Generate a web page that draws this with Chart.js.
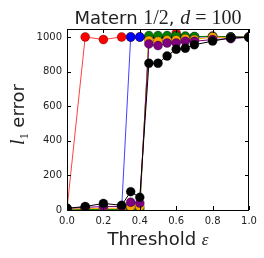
<!DOCTYPE html>
<html>
<head>
<meta charset="utf-8">
<script src="https://cdn.jsdelivr.net/npm/chart.js@4.4.0/dist/chart.umd.min.js"></script>
<style>
  html, body { margin: 0; padding: 0; background: #fff; }
  #wrap { width: 264px; height: 258px; }
</style>
</head>
<body>
<div id="wrap"><canvas id="myChart" width="264" height="258"></canvas></div>
<script>
const thresholds = [0, 0.1, 0.2, 0.3, 0.35, 0.4, 0.45, 0.5, 0.55, 0.6, 0.65, 0.7, 0.8, 0.9, 1.0];
const xTicks = [0, 0.2, 0.4, 0.6, 0.8, 1.0];
const yTicks = [0, 200, 400, 600, 800, 1000];

const redErr    = [5, 1000, 985, 1000, 1000, 1000, 1000, 1000, 1000, 1022, 1000, 1000, 1005, 1000, 1000];
const blueErr   = [3, 3, 3, 3, 1000, 1000, 1000, 1000, 1000, 1000, 1000, 1000, 1000, 1000, 1000];
const greenErr  = [2, 3, 3, 3, 5, 5, 1008, 1008, 1008, 1008, 1005, 1003, 1003, 1000, 1000];
const orangeErr = [5, 8, 10, 10, 20, 20, 980, 975, 982, 983, 990, 985, 1000, 995, 1000];
const purpleErr = [10, 15, 20, 20, 45, 40, 960, 950, 965, 965, 975, 975, 985, 990, 1000];
const blackErr  = [10, 20, 38, 27, 106, 73, 848, 848, 890, 929, 935, 955, 976, 995, 997];

const series = [
    { values: redErr, color: '#ff0000', line: 'rgba(255,0,0,0.75)' },
    { values: blueErr, color: '#0000ff', line: 'rgba(0,0,255,0.75)' },
    { values: greenErr, color: '#007f00', line: '#007f00' },
    { values: orangeErr, color: '#ffa500', line: '#ffa500' },
    { values: purpleErr, color: '#800080', line: '#800080' },
    { values: blackErr, color: '#000000', line: '#000000' },
];

const decorations = {
    id: 'decorations',
    afterDraw(chart) {
        const ctx = chart.ctx;
        const a = chart.chartArea;
        const xs = chart.scales.x, ys = chart.scales.y;
        ctx.save();
        ctx.strokeStyle = '#000';
        ctx.lineWidth = 1;
        // inward ticks
        ctx.beginPath();
        xTicks.forEach(v => {
            const px = Math.round(xs.getPixelForValue(v)) + 0.5;
            ctx.moveTo(px, a.bottom); ctx.lineTo(px, a.bottom - 4);
            ctx.moveTo(px, a.top); ctx.lineTo(px, a.top + 4);
        });
        yTicks.forEach(v => {
            const py = Math.round(ys.getPixelForValue(v)) + 0.5;
            ctx.moveTo(a.left, py); ctx.lineTo(a.left + 4, py);
            ctx.moveTo(a.right, py); ctx.lineTo(a.right - 4, py);
        });
        ctx.stroke();
        // frame
        ctx.strokeRect(Math.round(a.left) + 0.5, Math.round(a.top) + 0.5,
            Math.round(a.right - a.left) - 1, Math.round(a.bottom - a.top));

        ctx.fillStyle = '#222';
        ctx.textBaseline = 'alphabetic';
        // title: mixed text and math
        const parts = [
            ['Matern ', '18px "DejaVu Sans"'],
            ['1/2', '20px "Liberation Serif"'],
            [', ', '18px "DejaVu Sans"'],
            ['d', 'italic 20px "Liberation Serif"'],
            [' = ', '20px "Liberation Serif"'],
            ['100', '20px "Liberation Serif"'],
        ];
        let total = 0;
        parts.forEach(p => { ctx.font = p[1]; total += ctx.measureText(p[0]).width; });
        let x = (a.left + a.right) / 2 - total / 2;
        parts.forEach(p => { ctx.font = p[1]; ctx.fillText(p[0], x, 24); x += ctx.measureText(p[0]).width; });

        // x label
        const t1 = 'Threshold ';
        ctx.font = '18px "DejaVu Sans"';
        const w1 = ctx.measureText(t1).width;
        ctx.font = 'italic 17px "Liberation Serif"';
        const w2 = ctx.measureText('ε').width;
        let lx = (a.left + a.right) / 2 - (w1 + w2) / 2;
        ctx.font = '18px "DejaVu Sans"';
        ctx.fillText(t1, lx, 245);
        ctx.font = 'italic 17px "Liberation Serif"';
        ctx.fillText('ε', lx + w1, 245);

        // y label
        ctx.translate(24, (a.top + a.bottom) / 2 - 5);
        ctx.rotate(-Math.PI / 2);
        ctx.font = 'italic 20px "Liberation Serif"';
        const wl = ctx.measureText('l').width;
        ctx.font = '12px "Liberation Serif"';
        const ws = ctx.measureText('1').width;
        ctx.font = '18px "DejaVu Sans"';
        const we = ctx.measureText(' error').width;
        let yx = -(wl + ws + we) / 2;
        ctx.font = 'italic 20px "Liberation Serif"';
        ctx.fillText('l', yx, 0);
        ctx.font = '12px "Liberation Serif"';
        ctx.fillText('1', yx + wl, 4);
        ctx.font = '18px "DejaVu Sans"';
        ctx.fillText(' error', yx + wl + ws, 0);
        ctx.restore();
    }
};

const constructChart = () => {
    const data = {
        datasets: series.map((s, i) => ({
            data: thresholds.map((t, j) => ({ x: t, y: s.values[j] })),
            order: series.length - i,
            borderColor: s.line,
            borderWidth: 1,
            backgroundColor: s.color,
            pointBackgroundColor: s.color,
            pointBorderColor: 'rgba(0,0,0,0.6)',
            pointBorderWidth: 0.5,
            pointRadius: 4.5,
            tension: 0,
        }))
    };

    const config = {
        type: 'line',
        data: data,
        plugins: [decorations],
        options: {
            responsive: false,
            animation: false,
            events: [],
            layout: { padding: { left: 0, right: 15, top: 29, bottom: 0 } },
            plugins: { legend: { display: false }, tooltip: { enabled: false }, title: { display: false } },
            scales: {
                x: {
                    type: 'linear',
                    min: 0,
                    max: 1,
                    afterFit: s => { s.height = 48; },
                    afterBuildTicks: s => { s.ticks = xTicks.map(v => ({ value: v })); },
                    grid: { display: false, drawTicks: false },
                    border: { display: false },
                    ticks: {
                        padding: 5,
                        color: '#222',
                        font: { family: 'DejaVu Sans', size: 10 },
                        maxRotation: 0,
                        callback: v => v.toFixed(1)
                    }
                },
                y: {
                    min: 0,
                    max: 1046,
                    afterFit: s => { s.width = 67; },
                    afterBuildTicks: s => { s.ticks = yTicks.map(v => ({ value: v })); },
                    grid: { display: false, drawTicks: false },
                    border: { display: false },
                    ticks: {
                        padding: 5,
                        color: '#222',
                        font: { family: 'DejaVu Sans', size: 10 },
                        callback: v => String(v)
                    }
                }
            }
        }
    };

    new Chart(document.getElementById('myChart'), config);
};

constructChart();
</script>
</body>
</html>
